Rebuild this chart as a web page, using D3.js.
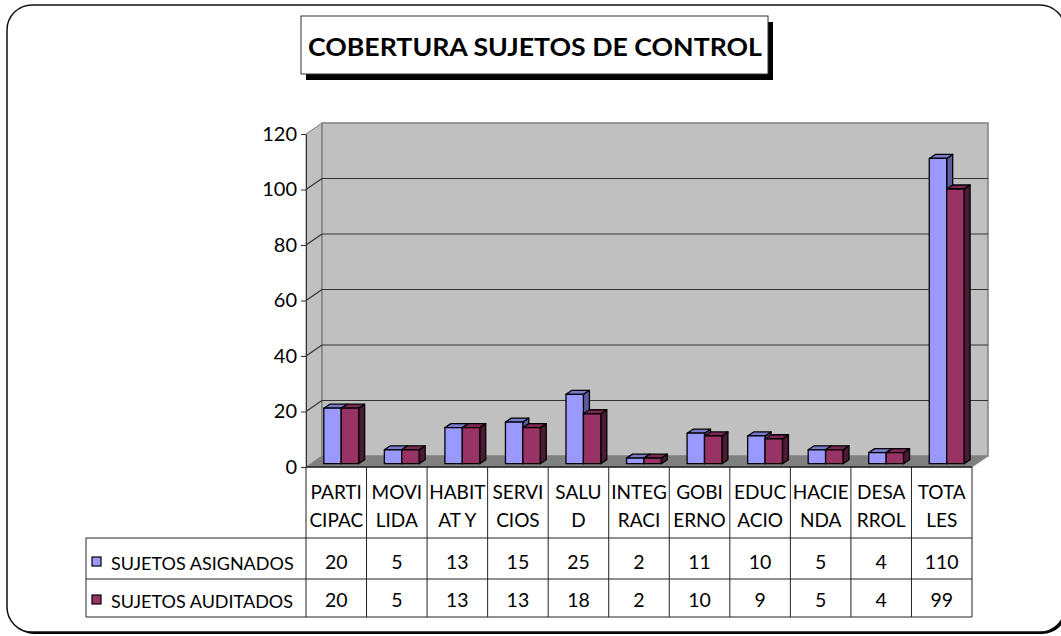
<!DOCTYPE html>
<html>
<head>
<meta charset="utf-8">
<title>Cobertura sujetos de control</title>
<script src="https://cdn.jsdelivr.net/npm/d3@7"></script>
<style>
  body { margin: 0; background: #fff; }
  text { font-family: Lato, "Open Sans", sans-serif; fill: #000; }
</style>
</head>
<body>
<script>
// data
var categories = ["PARTICIPAC", "MOVILIDA", "HABITAT Y", "SERVICIOS", "SALUD", "INTEGRACI",
  "GOBIERNO", "EDUCACIO", "HACIENDA", "DESARROL", "TOTALES"];
// how the labels wrap in the table header
var labelLines = [["PARTI", "CIPAC"], ["MOVI", "LIDA"], ["HABIT", "AT Y"], ["SERVI", "CIOS"],
  ["SALU", "D"], ["INTEG", "RACI"], ["GOBI", "ERNO"], ["EDUC", "ACIO"], ["HACIE", "NDA"],
  ["DESA", "RROL"], ["TOTA", "LES"]];
var seriesNames = ["SUJETOS ASIGNADOS", "SUJETOS AUDITADOS"];
var asignados = [20, 5, 13, 15, 25, 2, 11, 10, 5, 4, 110];
var auditados = [20, 5, 13, 13, 18, 2, 10, 9, 5, 4, 99];
var yTicks = [0, 20, 40, 60, 80, 100, 120];

var series = [asignados, auditados];
var colors = [
  {front: "#9999ff", top: "#7a7acc", side: "#5c5c9e"},
  {front: "#993366", top: "#7a2952", side: "#4d1a33"}
];

var W = 1061, H = 636;
var svg = d3.select("body").append("svg")
  .attr("width", W).attr("height", H);

// outer rounded frame with a bit of shadow
svg.append("rect").attr("x", 9).attr("y", 7).attr("width", 1058).attr("height", 627)
  .attr("rx", 25).attr("fill", "#000");
svg.append("rect").attr("x", 7).attr("y", 5).attr("width", 1058).attr("height", 627)
  .attr("rx", 25).attr("fill", "#fff").attr("stroke", "#111").attr("stroke-width", 1.5);

// scales (front plane)
var x = d3.scaleBand().domain(categories).range([306, 972]);
var y = d3.scaleLinear().domain([0, 120]).range([467, 134]);
var depth = {dx: 16, dy: -11};

var x0 = x.range()[0], x1 = x.range()[1];
var yb = y(0), yt = y(120);

// walls
var walls = svg.append("g");
walls.append("polygon")   // floor
  .attr("points", [[x0, yb], [x0 + depth.dx, yb + depth.dy], [x1 + depth.dx, yb + depth.dy], [x1, yb]].join(" "))
  .attr("fill", "#808080").attr("stroke", "#808080");
walls.append("polygon")   // side wall
  .attr("points", [[x0, yt], [x0 + depth.dx, yt + depth.dy], [x0 + depth.dx, yb + depth.dy], [x0, yb]].join(" "))
  .attr("fill", "#c0c0c0").attr("stroke", "#808080");
walls.append("rect")      // back wall
  .attr("x", x0 + depth.dx).attr("y", yt + depth.dy)
  .attr("width", x1 - x0).attr("height", yb - yt)
  .attr("fill", "#c0c0c0").attr("stroke", "#808080").attr("stroke-width", 1.5);

// gridlines on back + side walls
var grid = walls.selectAll(".grid").data(yTicks.slice(1, -1)).enter().append("g");
grid.append("line")
  .attr("x1", x0 + depth.dx).attr("x2", x1 + depth.dx)
  .attr("y1", function(d) { return y(d) + depth.dy; })
  .attr("y2", function(d) { return y(d) + depth.dy; })
  .attr("stroke", "#333").attr("stroke-width", 1.2);
grid.append("line")
  .attr("x1", x0).attr("x2", x0 + depth.dx)
  .attr("y1", function(d) { return y(d); })
  .attr("y2", function(d) { return y(d) + depth.dy; })
  .attr("stroke", "#333").attr("stroke-width", 1.2);

// bars: sitting a little back from the front edge
var f = 0.3;
var sx = depth.dx * f, sy = depth.dy * f;
var bd = {dx: 6, dy: -4};
var bw = x.bandwidth();
var sub = d3.scaleBand().domain([0, 1]).range([bw * 0.215, bw * 0.79]);

categories.forEach(function(c, i) {
  series.forEach(function(s, k) {
    var v = s[i];
    var l = x(c) + sub(k) + sx, r = l + sub.bandwidth();
    var top = y(v) + sy, base = y(0) + sy;
    var g = svg.append("g").attr("stroke", "#000").attr("stroke-width", 1.3)
      .attr("stroke-linejoin", "round");
    g.append("polygon")
      .attr("points", [[r, top], [r + bd.dx, top + bd.dy], [r + bd.dx, base + bd.dy], [r, base]].join(" "))
      .attr("fill", colors[k].side);
    g.append("polygon")
      .attr("points", [[l, top], [l + bd.dx, top + bd.dy], [r + bd.dx, top + bd.dy], [r, top]].join(" "))
      .attr("fill", colors[k].top);
    g.append("rect").attr("x", l).attr("y", top)
      .attr("width", r - l).attr("height", base - top)
      .attr("fill", colors[k].front);
  });
});

// y axis
var yAxis = svg.append("g")
  .attr("transform", "translate(" + x0 + ",0)")
  .call(d3.axisLeft(y).tickValues(yTicks).tickSize(5).tickSizeOuter(0).tickPadding(4));
yAxis.select(".domain").attr("stroke", "#333");
yAxis.selectAll(".tick line").attr("stroke", "#333");
yAxis.selectAll("text").style("font-size", "20px").style("font-family", "Lato, sans-serif");

// category axis line
svg.append("line").attr("x1", x0).attr("x2", x1).attr("y1", yb).attr("y2", yb)
  .attr("stroke", "#222").attr("stroke-width", 1.3);

// data table
var rowTop = 538, rowMid = 579, rowBot = 617, legLeft = 86;
var table = svg.append("g").attr("stroke", "#222").attr("stroke-width", 1);
var cols = categories.map(function(c) { return x(c); }).concat([x1]);
table.selectAll(".vl").data(cols).enter().append("line")
  .attr("x1", function(d) { return d; }).attr("x2", function(d) { return d; })
  .attr("y1", yb).attr("y2", rowBot);
[rowTop, rowMid, rowBot].forEach(function(yy) {
  table.append("line").attr("x1", legLeft).attr("x2", x1).attr("y1", yy).attr("y2", yy);
});
table.append("line").attr("x1", legLeft).attr("x2", legLeft).attr("y1", rowTop).attr("y2", rowBot);

// header labels
var head = svg.selectAll(".head").data(categories).enter().append("text")
  .attr("text-anchor", "middle").style("font-size", "19px");
head.append("tspan")
  .attr("x", function(d) { return x(d) + bw / 2; }).attr("y", 499)
  .text(function(d, i) { return labelLines[i][0]; });
head.append("tspan")
  .attr("x", function(d) { return x(d) + bw / 2; }).attr("y", 527)
  .text(function(d, i) { return labelLines[i][1]; });

// values
var rowBase = [569, 607];
series.forEach(function(s, k) {
  svg.selectAll(".val" + k).data(s).enter().append("text")
    .attr("x", function(d, i) { return x(categories[i]) + bw / 2; })
    .attr("y", rowBase[k])
    .attr("text-anchor", "middle").style("font-size", "19.5px")
    .text(function(d) { return d; });
  svg.append("rect").attr("x", 92).attr("y", rowBase[k] - 12)
    .attr("width", 9).attr("height", 9)
    .attr("fill", colors[k].front).attr("stroke", "#000").attr("stroke-width", 1.2);
  svg.append("text").attr("x", 111).attr("y", rowBase[k] + 1)
    .style("font-size", "18px").text(seriesNames[k]);
});

// title box
svg.append("rect").attr("x", 306).attr("y", 22).attr("width", 467).attr("height", 58).attr("fill", "#000");
svg.append("rect").attr("x", 301).attr("y", 16).attr("width", 467).attr("height", 58)
  .attr("fill", "#fff").attr("stroke", "#333");
svg.append("text").attr("x", 535).attr("y", 56).attr("text-anchor", "middle")
  .style("font-size", "25px").style("font-weight", "bold")
  .attr("textLength", 454).attr("lengthAdjust", "spacingAndGlyphs")
  .text("COBERTURA SUJETOS DE CONTROL");
</script>
</body>
</html>
